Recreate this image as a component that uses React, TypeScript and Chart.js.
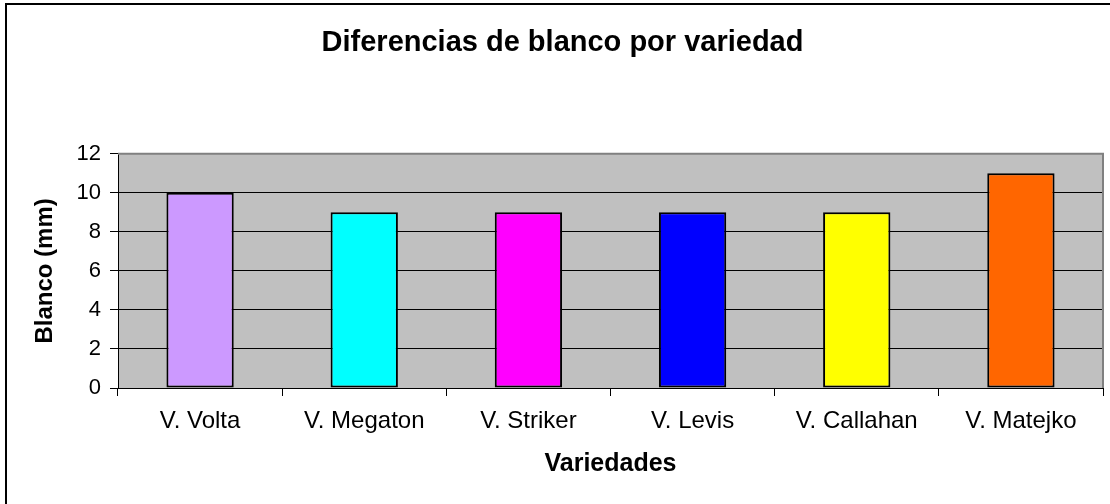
import React, { useEffect, useRef } from "react";
import { Chart, registerables } from "chart.js";

Chart.register(...registerables);

const categories = ["V. Volta", "V. Megaton", "V. Striker", "V. Levis", "V. Callahan", "V. Matejko"];
const values = [10, 9, 9, 9, 9, 11];
const barColors = ["#CC99FF", "#00FFFF", "#FF00FF", "#0000FF", "#FFFF00", "#FF6600"];
const yTicks = [0, 2, 4, 6, 8, 10, 12];
const chartTitle = "Diferencias de blanco por variedad";
const xTitle = "Variedades";
const yTitle = "Blanco (mm)";

const FONT = "Arial, 'Liberation Sans', Helvetica, sans-serif";

const plotBg = {
  id: "plotBg",
  beforeDraw(chart: any) {
    const { ctx, chartArea: a } = chart;
    ctx.save();
    ctx.fillStyle = "#C0C0C0";
    ctx.fillRect(a.left, a.top, a.right - a.left, a.bottom - a.top);
    ctx.restore();
  },
  beforeDatasetsDraw(chart: any) {
    const { ctx, chartArea: a } = chart;
    ctx.save();
    ctx.strokeStyle = "#808080";
    ctx.lineWidth = 2;
    ctx.beginPath();
    ctx.moveTo(a.left, a.top);
    ctx.lineTo(a.right, a.top);
    ctx.lineTo(a.right, a.bottom);
    ctx.stroke();
    ctx.restore();
  },
};

export default function App() {
  const ref = useRef<HTMLCanvasElement>(null);
  useEffect(() => {
    if (!ref.current) return;
    const chart = new Chart(ref.current, {
      type: "bar",
      data: {
        labels: categories,
        datasets: [
          {
            data: values,
            backgroundColor: barColors,
            borderColor: "#000000",
            borderWidth: 2,
            borderSkipped: false,
            barPercentage: 0.41,
            categoryPercentage: 1,
          },
        ],
      },
      plugins: [plotBg],
      options: {
        animation: false,
        responsive: false,
        maintainAspectRatio: false,
        layout: { padding: { left: 22, right: 7, top: 0, bottom: 0 } },
        plugins: {
          legend: { display: false },
          tooltip: { enabled: false },
          title: {
            display: true,
            text: chartTitle,
            color: "#000",
            font: { family: FONT, size: 29, weight: "bold" },
            padding: { top: 26, bottom: 93 },
          },
        },
        scales: {
          x: {
            grid: {
              display: true,
              drawOnChartArea: false,
              drawTicks: true,
              tickLength: 8,
              tickColor: "#000",
              offset: true,
              lineWidth: 1,
            },
            border: { display: true, color: "#000", width: 1 },
            ticks: {
              color: "#000",
              font: { family: FONT, size: 24 },
              padding: 11,
              maxRotation: 0,
              autoSkip: false,
            },
            title: {
              display: true,
              text: xTitle,
              color: "#000",
              font: { family: FONT, size: 25, weight: "bold" },
              padding: { top: 0, bottom: 25 },
            },
            afterFit: (scale: any) => {
              scale.height = 116;
            },
          },
          y: {
            min: 0,
            max: 12,
            afterBuildTicks: (scale: any) => {
              scale.ticks = yTicks.map((v) => ({ value: v }));
            },
            grid: {
              color: "#000",
              lineWidth: 1,
              drawTicks: true,
              tickLength: 8,
              tickColor: "#000",
            },
            border: { display: true, color: "#000", width: 1 },
            ticks: {
              color: "#000",
              font: { family: FONT, size: 22 },
              padding: 9,
            },
            title: {
              display: true,
              text: yTitle,
              color: "#000",
              font: { family: FONT, size: 24, weight: "bold" },
              padding: { top: 9, bottom: 0 },
            },
            afterFit: (scale: any) => {
              scale.width = 96;
            },
          },
        },
      },
    });
    return () => chart.destroy();
  }, []);

  return (
    <div style={{ position: "fixed", left: 0, top: 0, width: 1110, height: 504, overflow: "hidden", background: "#fff" }}>
      <div
        style={{
          position: "absolute",
          left: 5,
          top: 3,
          width: 1200,
          height: 600,
          border: "2px solid #000",
          boxSizing: "border-box",
        }}
      />
      <canvas ref={ref} width={1110} height={504} style={{ position: "absolute", left: 0, top: 0, display: "block" }} />
    </div>
  );
}
